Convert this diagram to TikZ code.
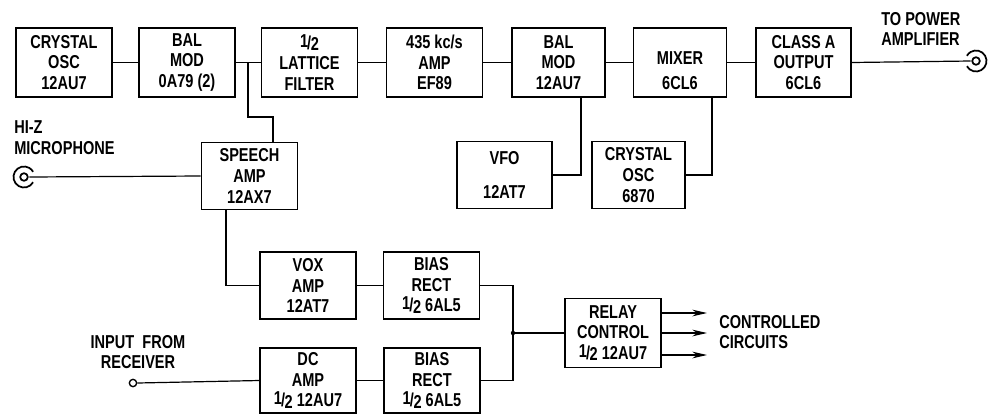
\documentclass[tikz,border=0pt]{standalone}
\usepackage{fontspec}
\setmainfont{Liberation Sans}[FakeStretch=0.78]
\usetikzlibrary{arrows.meta,calc}
\newcommand\halfx{\raisebox{.2ex}{1}\kern-.05em/\kern-.02em\raisebox{-.15ex}{2}}
\begin{document}
\begin{tikzpicture}[x=0.75pt,y=-0.75pt,
  txt/.style={font=\fontsize{14}{15.5}\selectfont\bfseries},
  blk/.style={txt,draw,line width=1.2pt,align=center,inner sep=0pt,minimum width=72pt,minimum height=52pt},
  blkb/.style={blk,minimum height=50pt},
  wire/.style={line width=0.9pt},
  lab/.style={txt,inner sep=0pt}]
\useasboundingbox (0,0) rectangle (995,415);
% top row
\node[blk] (cosc) at (64,62.5) {CRYSTAL\\OSC\\12AU7};
\node[blk] (bm1) at (187,62.5) {BAL\\MOD\\0A79 (2)};
\node[blk] (lat) at (309.5,62.5) {\halfx\\LATTICE\\FILTER};
\node[blk] (amp) at (434.5,62.5) {435 kc/s\\AMP\\EF89};
\node[blk,minimum width=70pt] (bm2) at (558.5,62.5) {BAL\\MOD\\12AU7};
\node[blk,minimum width=70pt,label={[lab,align=center,yshift=-6pt]center:MIXER\\[3pt]6CL6}] (mix) at (680,62.5) {};
\node[blk,minimum width=71pt] (cls) at (803.5,62.5) {CLASS A\\OUTPUT\\6CL6};
% second row
\node[blkb] (speech) at (249.5,176) {SPEECH\\AMP\\12AX7};
\node[blkb,minimum width=71pt] (vfo) at (504.5,175) {VFO\\[10pt]12AT7};
\node[blkb,minimum width=70pt] (xo2) at (638.5,175) {CRYSTAL\\OSC\\6870};
% lower rows
\node[blkb] (vox) at (308,285.5) {VOX\\AMP\\12AT7};
\node[blkb] (br1) at (431.5,285.5) {BIAS\\RECT\\\halfx\ 6AL5};
\node[blkb,minimum height=49pt] (dc) at (308,380.5) {DC\\AMP\\\halfx\ 12AU7};
\node[blkb,minimum height=49pt] (br2) at (432,380.5) {BIAS\\RECT\\\halfx\ 6AL5};
\node[blk] (relay) at (613,333) {RELAY\\CONTROL\\\halfx\ 12AU7};
% labels
\node[lab,align=left,anchor=west] (tpa) at (881,29) {TO POWER\\AMPLIFIER};
\node[lab,align=left,anchor=west] (hiz) at (14,137.5) {HI-Z\\MICROPHONE};
\node[lab,align=center] (inr) at (138,352) {INPUT\ \ FROM\\RECEIVER};
\node[lab,align=left,anchor=west] (cc) at (719,332) {CONTROLLED\\CIRCUITS};
% terminals
\coordinate (outc) at (976,61);
\coordinate (micc) at (24,177);
\coordinate (inc) at (133,383);
\draw[line width=1.3pt] (outc) circle[radius=3.8];
\draw[line width=1.3pt] ($(outc)+(150:10.5)$) arc[start angle=150,end angle=-150,radius=10.5];
\draw[line width=1.3pt] (micc) circle[radius=3.8];
\draw[line width=1.3pt] ($(micc)+(30:10.5)$) arc[start angle=30,end angle=330,radius=10.5];
\node[draw,circle,line width=1pt,minimum size=5.5pt,inner sep=0pt] (inT) at (inc) {};
\node[circle,inner sep=0pt,minimum size=7.6pt] (outT) at (outc) {};
\node[circle,inner sep=0pt,minimum size=7.6pt] (micT) at (micc) {};
% connectors top row
\draw[wire] (cosc) -- (bm1);
\draw[wire] (bm1) -- (lat);
\draw[wire] (lat) -- (amp);
\draw[wire] (amp) -- (bm2);
\draw[wire] (bm2) -- (mix);
\draw[wire] (mix) -- (cls);
\draw[wire] (cls.east) -- (outT.west);
% to speech amp
\coordinate (j1) at (248,62.5);
\coordinate (j2) at (273,117);
\draw[wire] (j1) |- (j2) -- (j2 |- speech.north);
\draw[wire] (micT.east) -- (speech.west);
% vfo / xtal
\coordinate (b2) at (581,97);
\coordinate (m2) at (712,97);
\draw[wire] (b2 |- bm2.south) |- (vfo.east);
\draw[wire] (m2 |- mix.south) |- (xo2.east);
% speech to vox
\coordinate (s2) at (226,210);
\draw[wire] (s2 |- speech.south) |- (vox.west);
\draw[wire] (vox) -- (br1);
\draw[wire] (dc) -- (br2);
\draw[wire] (inT.east) -- (dc.west);
% combine
\coordinate (jn) at (513,333);
\draw[wire] (br1.east) -| (jn);
\draw[wire] (br2.east) -| (jn);
\draw[wire] (jn) -- (relay.west);
\fill (jn) circle[radius=2.2];
% outputs
\coordinate (a1) at (707,313);
\coordinate (a2) at (707,333);
\coordinate (a3) at (707,355);
\foreach \a in {a1,a2,a3}
  \draw[wire,-{Stealth[length=11pt,width=5pt]}] (relay.east |- \a) -- (\a);
\end{tikzpicture}
\end{document}
